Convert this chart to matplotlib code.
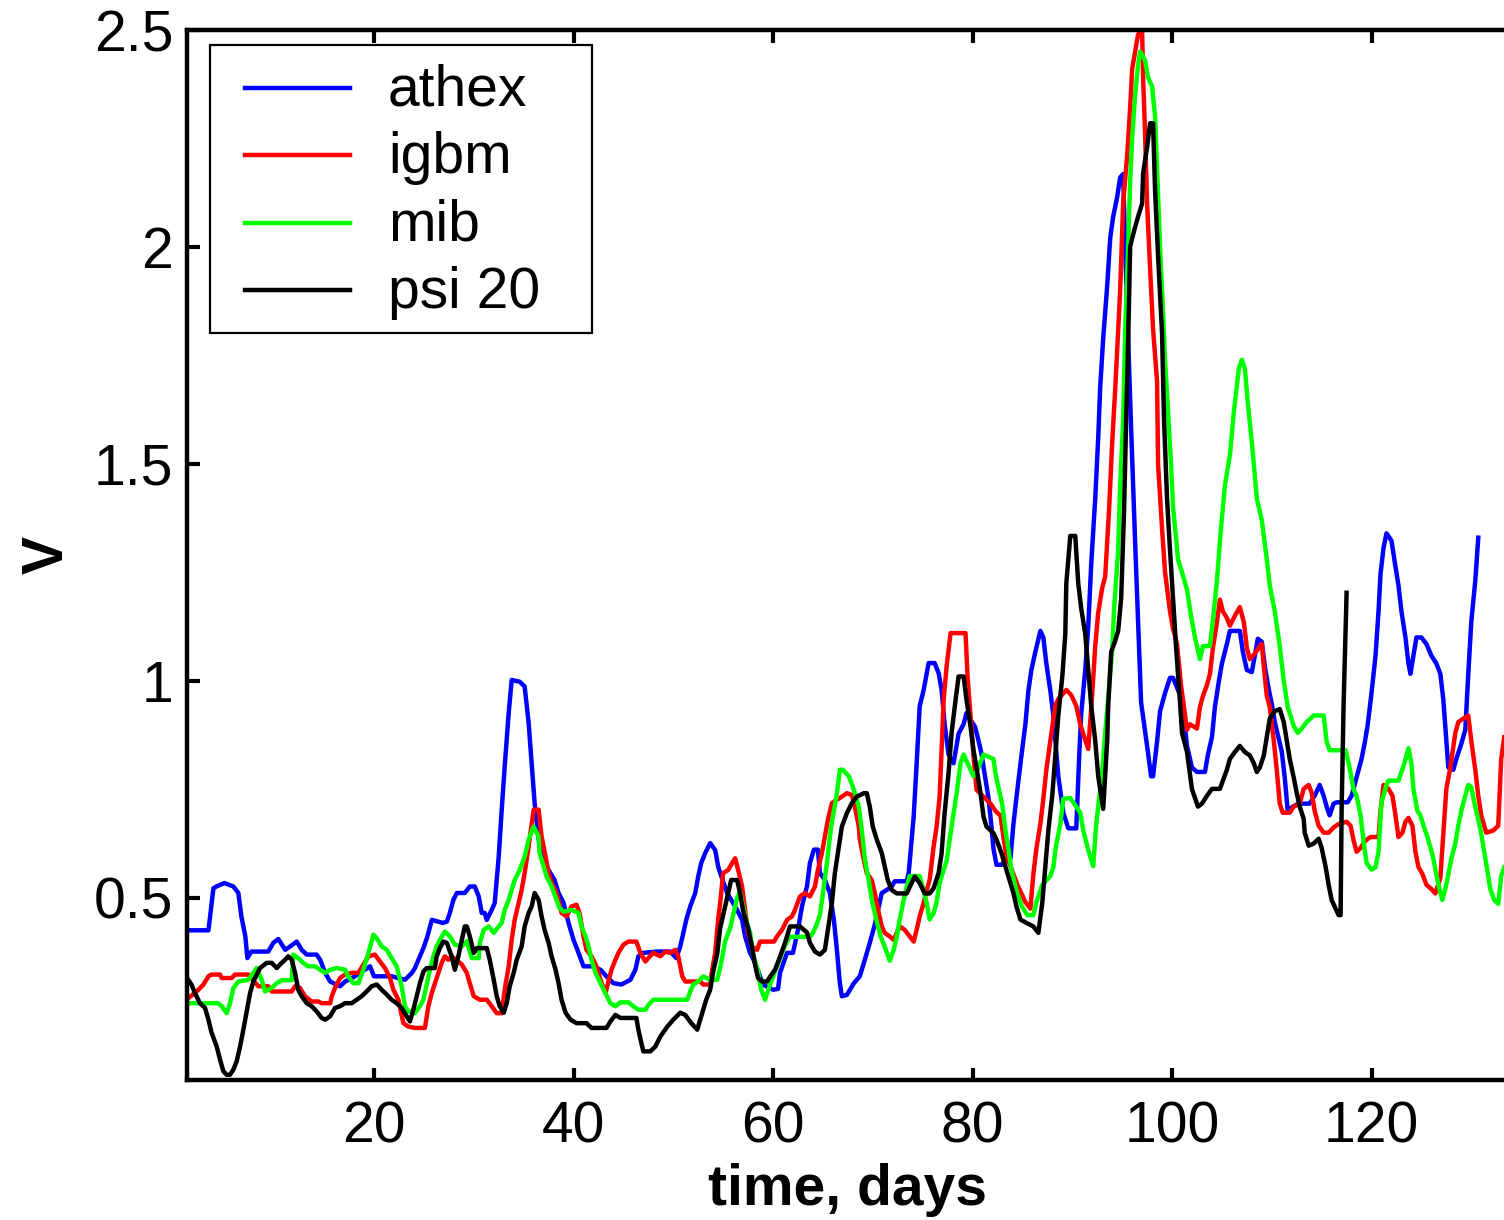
import matplotlib
matplotlib.use("Agg")
import matplotlib.pyplot as plt
from matplotlib.patches import Rectangle

plt.rcParams['font.family'] = ['Liberation Sans', 'DejaVu Sans']

# days / values (vertices of each trace)
athex_t = [1.3, 3.4, 3.9, 4.2, 5.0, 5.9, 6.4, 6.7, 7.1, 7.3, 7.7, 9.4, 9.9, 10.4, 11.1, 11.6, 12.25, 12.75,
           13.25, 14.25, 14.6, 15.1, 15.6, 16.6, 17.1, 17.8, 18.6, 19.6, 20.0, 21.1, 21.8, 22.4, 23.1, 23.8,
           24.1, 24.45, 24.95, 25.3, 25.8, 26.45, 26.9, 27.3, 27.6, 27.95, 28.3, 29.1, 29.6, 30.1, 30.5, 30.8,
           31.1, 31.3, 31.8, 32.1, 32.5, 32.8, 33.1, 33.5, 33.8, 34.6, 35.1, 35.5, 35.8, 36.1, 36.6, 37.2,
           38.1, 38.5, 39.0, 39.5, 40.0, 40.5, 41.0, 42.0, 42.7, 43.3, 44.0, 44.8, 45.7, 46.2, 46.5, 47.0,
           48.3, 49.7, 50.3, 50.7, 51.0, 51.3, 51.7, 52.2, 52.5, 52.8, 53.2, 53.7, 54.2, 54.5, 54.7, 55.4,
           56.4, 56.9, 57.2, 57.7, 58.2, 59.0, 60.0, 60.5, 60.7, 61.4, 62.0, 62.5, 62.9, 63.4, 63.7, 64.1,
           64.5, 64.7, 65.2, 65.7, 66.1, 66.4, 66.7, 66.9, 67.4, 68.1, 68.7, 69.2, 69.7, 70.2, 70.9, 71.4,
           71.9, 72.2, 73.4, 73.6, 74.1, 74.4, 74.7, 75.1, 75.6, 76.2, 76.6, 76.9, 77.2, 77.6, 78.1, 78.6,
           79.1, 79.4, 79.8, 80.25, 80.6, 80.9, 81.25, 81.6, 81.9, 82.1, 82.4, 82.9, 83.4, 83.8, 84.1, 84.6,
           84.9, 85.3, 85.6, 85.9, 86.3, 86.8, 87.1, 87.4, 87.8, 88.1, 88.6, 89.1, 89.6, 90.4, 90.7, 90.9,
           91.3, 91.6, 91.9, 92.3, 92.6, 92.8, 93.1, 93.5, 93.8, 94.1, 94.5, 94.8, 95.1, 95.3, 95.9, 96.3,
           96.9, 97.5, 97.9, 98.1, 98.5, 98.8, 99.3, 99.8, 100.1, 101.0, 101.5, 102.0, 102.5, 103.3, 103.6,
           104.0, 104.3, 104.7, 105.0, 105.5, 105.8, 106.8, 107.1, 107.5, 108.0, 108.6, 109.0, 109.3, 109.7,
           110.0, 110.3, 111.0, 111.3, 111.6, 112.1, 112.7, 113.8, 114.3, 114.8, 115.2, 115.5, 115.8, 116.2,
           116.5, 117.6, 118.0, 118.6, 119.0, 119.3, 119.6, 120.0, 120.4, 120.7, 120.9, 121.2, 121.5, 122.0,
           122.4, 122.7, 123.0, 123.4, 123.7, 123.9, 124.2, 124.5, 125.0, 125.5, 126.0, 126.5, 126.9, 127.2,
           127.5, 127.7, 128.2, 128.5, 129.0, 129.4, 129.7, 130.0, 130.4, 130.7]
athex_v = [0.425, 0.425, 0.522, 0.526, 0.534, 0.526, 0.511, 0.457, 0.411, 0.361, 0.376, 0.376, 0.396, 0.405,
           0.380, 0.388, 0.399, 0.380, 0.369, 0.369, 0.357, 0.327, 0.307, 0.296, 0.307, 0.315, 0.327, 0.342,
           0.319, 0.319, 0.319, 0.315, 0.311, 0.327, 0.338, 0.357, 0.384, 0.407, 0.449, 0.445, 0.442, 0.445,
           0.465, 0.495, 0.511, 0.511, 0.526, 0.526, 0.503, 0.465, 0.465, 0.449, 0.472, 0.488, 0.595, 0.703,
           0.803, 0.926, 1.002, 0.998, 0.987, 0.903, 0.810, 0.718, 0.618, 0.575, 0.541, 0.511, 0.488, 0.442,
           0.403, 0.373, 0.342, 0.342, 0.334, 0.319, 0.303, 0.300, 0.311, 0.334, 0.365, 0.373, 0.376, 0.376,
           0.361, 0.388, 0.419, 0.449, 0.480, 0.511, 0.549, 0.580, 0.603, 0.626, 0.610, 0.572, 0.557, 0.511,
           0.472, 0.449, 0.411, 0.373, 0.350, 0.300, 0.288, 0.290, 0.327, 0.373, 0.373, 0.426, 0.480, 0.526,
           0.580, 0.611, 0.611, 0.557, 0.541, 0.511, 0.449, 0.380, 0.303, 0.273, 0.276, 0.303, 0.319, 0.357,
           0.396, 0.438, 0.511, 0.518, 0.526, 0.538, 0.538, 0.557, 0.687, 0.810, 0.941, 0.979, 1.041, 1.041,
           1.018, 0.979, 0.900, 0.830, 0.810, 0.878, 0.900, 0.926, 0.910, 0.894, 0.862, 0.832, 0.780, 0.730,
           0.664, 0.613, 0.576, 0.576, 0.590, 0.590, 0.670, 0.770, 0.827, 0.900, 0.977, 1.025, 1.067, 1.115,
           1.100, 1.040, 0.977, 0.920, 0.780, 0.696, 0.660, 0.660, 0.830, 0.926, 1.025, 1.125, 1.270, 1.420,
           1.560, 1.677, 1.790, 1.910, 2.020, 2.070, 2.115, 2.160, 2.168, 2.000, 1.580, 1.320, 0.950, 0.850,
           0.780, 0.780, 0.860, 0.930, 0.972, 1.007, 1.007, 0.956, 0.850, 0.800, 0.790, 0.790, 0.830, 0.870,
           0.940, 1.000, 1.040, 1.085, 1.115, 1.115, 1.067, 1.025, 1.020, 1.097, 1.090, 1.033, 0.980, 0.947,
           0.905, 0.837, 0.777, 0.700, 0.710, 0.717, 0.717, 0.735, 0.760, 0.735, 0.710, 0.690, 0.717, 0.720,
           0.720, 0.735, 0.786, 0.820, 0.855, 0.896, 0.972, 1.058, 1.160, 1.246, 1.306, 1.340, 1.323, 1.263,
           1.220, 1.160, 1.100, 1.040, 1.016, 1.058, 1.100, 1.100, 1.085, 1.058, 1.040, 1.016, 0.956, 0.862,
           0.800, 0.795, 0.820, 0.855, 0.887, 1.016, 1.136, 1.230, 1.330]

igbm_t = [1.4, 2.4, 2.9, 3.4, 3.7, 4.56, 4.73, 5.73, 6.06, 7.4, 8.4, 9.4, 9.74, 11.75, 12.08, 12.58, 13.08,
          13.75, 14.42, 14.75, 15.6, 15.76, 16.09, 16.59, 17.09, 17.76, 18.43, 19.43, 20.1, 20.6, 21.1, 21.6,
          21.94, 22.44, 22.94, 23.44, 24.1, 25.1, 25.45, 25.78, 26.11, 26.45, 26.78, 27.1, 27.45, 27.78,
          28.45, 28.8, 29.3, 29.6, 30.0, 30.6, 31.3, 31.8, 32.3, 32.8, 33.1, 33.5, 33.8, 34.1, 34.5, 34.8,
          35.1, 35.5, 36.0, 36.5, 36.8, 37.2, 37.5, 37.8, 38.3, 38.8, 39.3, 39.8, 40.3, 40.6, 41.0, 41.3,
          41.8, 42.3, 42.7, 43.2, 43.8, 44.2, 44.5, 45.0, 45.5, 46.3, 46.7, 47.2, 47.5, 48.0, 48.7, 49.2,
          49.7, 50.2, 50.5, 50.9, 51.2, 52.7, 53.0, 53.7, 53.9, 54.2, 54.5, 54.7, 55.0, 55.5, 55.9, 56.2,
          56.5, 56.9, 57.2, 57.5, 57.9, 58.4, 58.7, 60.1, 60.4, 60.9, 61.4, 61.9, 62.2, 62.7, 63.2, 63.7,
          64.2, 64.5, 64.9, 65.2, 65.5, 65.9, 66.4, 66.9, 67.4, 67.9, 68.2, 68.6, 68.7, 69.1, 69.4, 69.9,
          70.2, 70.6, 70.9, 71.2, 71.7, 72.1, 72.4, 72.7, 73.2, 73.7, 74.1, 74.4, 74.7, 75.1, 75.4, 75.7,
          76.1, 76.4, 76.7, 76.9, 77.1, 77.4, 77.8, 79.3, 79.5, 79.8, 80.1, 80.4, 81.8, 82.3, 82.8, 83.1,
          83.4, 84.5, 85.3, 85.8, 86.1, 86.4, 86.8, 87.1, 87.4, 87.8, 88.3, 88.6, 89.4, 89.9, 90.4, 90.8,
          91.1, 91.6, 92.0, 92.3, 92.6, 93.0, 93.3, 93.7, 94.0, 94.3, 94.8, 95.1, 95.5, 95.8, 96.0, 96.3,
          96.6, 97.0, 97.1, 97.3, 97.5, 97.8, 98.1, 98.5, 98.6, 99.0, 99.3, 99.8, 100.1, 100.5, 100.9, 101.5,
          101.8, 102.5, 102.8, 103.1, 103.5, 103.8, 104.1, 104.5, 104.8, 105.1, 105.5, 105.8, 106.3, 106.8,
          107.2, 107.5, 107.8, 108.2, 108.7, 109.0, 109.2, 109.5, 109.8, 110.2, 110.5, 110.8, 111.1, 111.8,
          112.2, 112.8, 113.2, 113.7, 114.0, 114.3, 114.7, 115.2, 115.7, 116.2, 116.7, 117.5, 117.9, 118.2,
          118.5, 118.9, 119.4, 119.9, 120.7, 120.9, 121.2, 121.7, 122.1, 122.4, 122.7, 123.1, 123.4, 123.7,
          124.1, 124.4, 124.7, 125.1, 125.5, 126.0, 126.4, 126.9, 127.2, 127.5, 127.9, 128.4, 128.7, 129.2,
          129.7, 130.0, 130.4, 130.7, 131.0, 131.5, 132.2, 132.7, 133.0, 133.3]
igbm_v = [0.269, 0.288, 0.300, 0.319, 0.323, 0.323, 0.315, 0.315, 0.323, 0.323, 0.296, 0.296, 0.284, 0.284,
          0.296, 0.292, 0.273, 0.261, 0.261, 0.257, 0.257, 0.273, 0.292, 0.315, 0.323, 0.327, 0.327, 0.365,
          0.369, 0.353, 0.338, 0.315, 0.288, 0.265, 0.211, 0.203, 0.200, 0.200, 0.250, 0.280, 0.303, 0.327,
          0.350, 0.365, 0.357, 0.365, 0.353, 0.346, 0.327, 0.303, 0.273, 0.265, 0.265, 0.250, 0.234, 0.234,
          0.288, 0.342, 0.403, 0.449, 0.488, 0.518, 0.557, 0.618, 0.703, 0.703, 0.641, 0.595, 0.557, 0.534,
          0.511, 0.465, 0.457, 0.480, 0.484, 0.465, 0.411, 0.380, 0.365, 0.342, 0.311, 0.280, 0.334, 0.357,
          0.373, 0.392, 0.399, 0.399, 0.373, 0.353, 0.361, 0.373, 0.365, 0.376, 0.373, 0.380, 0.365, 0.319,
          0.307, 0.307, 0.300, 0.300, 0.334, 0.373, 0.450, 0.488, 0.557, 0.564, 0.580, 0.591, 0.564, 0.526,
          0.472, 0.419, 0.388, 0.380, 0.399, 0.399, 0.411, 0.426, 0.449, 0.457, 0.472, 0.503, 0.511, 0.503,
          0.526, 0.564, 0.603, 0.641, 0.680, 0.718, 0.726, 0.733, 0.741, 0.737, 0.710, 0.664, 0.634, 0.588,
          0.557, 0.541, 0.511, 0.465, 0.434, 0.419, 0.411, 0.403, 0.419, 0.434, 0.426, 0.411, 0.399, 0.426,
          0.457, 0.488, 0.518, 0.541, 0.618, 0.664, 0.733, 0.841, 0.956, 1.033, 1.110, 1.110, 1.010, 0.918,
          0.826, 0.749, 0.717, 0.700, 0.689, 0.640, 0.597, 0.530, 0.490, 0.475, 0.555, 0.613, 0.670, 0.728,
          0.795, 0.862, 0.943, 0.958, 0.979, 0.967, 0.942, 0.900, 0.878, 0.843, 0.970, 1.080, 1.157, 1.214,
          1.240, 1.400, 1.550, 1.670, 1.900, 2.100, 2.210, 2.320, 2.410, 2.450, 2.490, 2.500, 2.390, 2.260,
          2.100, 1.950, 1.810, 1.690, 1.500, 1.350, 1.250, 1.160, 1.120, 1.085, 0.990, 0.887, 0.900, 0.890,
          0.940, 0.965, 0.990, 1.016, 1.076, 1.135, 1.187, 1.160, 1.145, 1.127, 1.150, 1.170, 1.135, 1.076,
          1.050, 1.060, 1.076, 1.085, 1.033, 0.965, 0.940, 0.862, 0.795, 0.717, 0.696, 0.696, 0.710, 0.717,
          0.751, 0.760, 0.742, 0.700, 0.666, 0.650, 0.650, 0.662, 0.670, 0.675, 0.666, 0.632, 0.606, 0.615,
          0.632, 0.640, 0.640, 0.700, 0.760, 0.751, 0.735, 0.690, 0.640, 0.650, 0.675, 0.684, 0.666, 0.606,
          0.571, 0.555, 0.530, 0.520, 0.510, 0.546, 0.650, 0.751, 0.800, 0.880, 0.905, 0.913, 0.920, 0.862,
          0.795, 0.735, 0.690, 0.650, 0.655, 0.666, 0.820, 0.870]

mib_t = [1.4, 4.4, 4.73, 5.23, 5.56, 5.9, 6.4, 7.4, 7.9, 8.24, 8.74, 9.07, 9.74, 10.24, 10.74, 11.75, 11.9,
         12.4, 12.9, 13.4, 14.1, 14.6, 15.1, 15.6, 16.26, 17.1, 17.4, 17.93, 18.43, 18.93, 19.43, 19.93,
         20.27, 20.77, 21.27, 21.77, 22.27, 22.77, 23.1, 23.44, 24.1, 24.6, 24.95, 25.28, 25.6, 25.95, 26.28,
         26.6, 27.1, 27.6, 28.1, 28.8, 29.3, 29.8, 30.5, 30.6, 31.0, 31.5, 32.0, 32.5, 32.8, 33.1, 33.5,
         33.8, 34.1, 34.6, 35.1, 35.5, 36.0, 36.5, 36.6, 37.0, 37.3, 37.8, 38.3, 38.6, 39.0, 39.8, 40.5,
         40.8, 41.2, 41.5, 41.8, 42.2, 42.7, 43.2, 43.7, 44.2, 44.7, 45.5, 46.0, 46.5, 47.2, 47.5, 48.0,
         51.4, 51.7, 52.0, 52.5, 53.0, 53.7, 54.4, 54.8, 55.2, 55.7, 56.0, 56.4, 56.7, 57.0, 57.4, 57.7,
         58.0, 58.5, 58.8, 59.2, 59.7, 60.2, 60.7, 61.2, 61.7, 62.7, 63.7, 64.0, 64.4, 64.7, 65.0, 65.4,
         65.8, 66.4, 66.7, 67.0, 67.6, 68.0, 68.6, 68.9, 69.2, 69.6, 69.9, 70.4, 70.8, 71.2, 71.7, 72.1,
         72.4, 72.7, 73.1, 73.4, 73.7, 74.7, 75.0, 75.4, 75.7, 76.1, 76.4, 76.7, 77.4, 77.9, 78.4, 78.8,
         79.1, 79.7, 80.1, 80.6, 81.1, 82.1, 82.3, 82.6, 83.0, 83.3, 83.6, 83.9, 84.4, 84.9, 85.5, 86.1,
         86.4, 87.0, 87.8, 88.1, 88.3, 88.8, 89.1, 89.8, 90.4, 90.8, 91.1, 91.6, 92.1, 92.4, 93.0, 93.3,
         93.6, 94.0, 94.2, 94.6, 94.8, 95.1, 95.3, 95.6, 95.8, 96.0, 96.3, 96.6, 96.8, 97.3, 97.6, 98.0,
         98.3, 98.5, 98.8, 99.1, 99.3, 99.6, 99.9, 100.1, 100.4, 100.6, 101.0, 101.5, 101.9, 102.3, 102.8,
         103.1, 103.8, 104.1, 104.5, 104.9, 105.3, 105.8, 106.2, 106.7, 107.0, 107.3, 107.6, 108.0, 108.5,
         109.0, 109.5, 109.8, 110.3, 110.8, 111.2, 111.6, 112.2, 112.6, 113.0, 113.5, 114.2, 115.2, 115.5,
         115.8, 116.8, 117.4, 117.8, 118.2, 118.5, 118.9, 119.2, 119.5, 120.0, 120.4, 120.7, 121.0, 121.5,
         121.7, 122.7, 123.0, 123.3, 123.7, 124.0, 124.2, 124.6, 124.9, 125.3, 125.6, 126.1, 126.4, 126.8,
         127.1, 127.5, 128.0, 128.4, 128.7, 129.0, 129.4, 129.7, 130.0, 130.3, 130.6, 130.9, 131.3, 131.6,
         131.9, 132.3, 132.7, 133.0, 133.3]
mib_v = [0.257, 0.257, 0.250, 0.234, 0.257, 0.292, 0.307, 0.311, 0.327, 0.338, 0.311, 0.284, 0.292, 0.303,
         0.310, 0.310, 0.369, 0.361, 0.350, 0.342, 0.342, 0.334, 0.327, 0.334, 0.338, 0.334, 0.319, 0.303,
         0.303, 0.334, 0.372, 0.415, 0.407, 0.388, 0.380, 0.361, 0.342, 0.296, 0.250, 0.238, 0.234, 0.250,
         0.265, 0.300, 0.334, 0.365, 0.388, 0.403, 0.422, 0.411, 0.392, 0.388, 0.400, 0.361, 0.361, 0.396,
         0.426, 0.434, 0.419, 0.434, 0.442, 0.472, 0.495, 0.518, 0.541, 0.564, 0.595, 0.634, 0.664, 0.641,
         0.603, 0.572, 0.549, 0.526, 0.495, 0.476, 0.468, 0.472, 0.465, 0.434, 0.411, 0.388, 0.357, 0.327,
         0.303, 0.280, 0.257, 0.250, 0.259, 0.259, 0.250, 0.242, 0.242, 0.253, 0.265, 0.265, 0.284, 0.300,
         0.307, 0.319, 0.311, 0.311, 0.350, 0.400, 0.430, 0.460, 0.500, 0.515, 0.480, 0.440, 0.420, 0.370,
         0.330, 0.290, 0.265, 0.300, 0.330, 0.360, 0.390, 0.410, 0.410, 0.410, 0.419, 0.440, 0.460, 0.510,
         0.580, 0.660, 0.740, 0.795, 0.795, 0.780, 0.756, 0.710, 0.655, 0.590, 0.540, 0.495, 0.445, 0.410,
         0.387, 0.355, 0.380, 0.410, 0.450, 0.495, 0.525, 0.550, 0.550, 0.525, 0.488, 0.450, 0.465, 0.490,
         0.534, 0.585, 0.664, 0.740, 0.810, 0.830, 0.800, 0.780, 0.800, 0.830, 0.820, 0.786, 0.754, 0.712,
         0.655, 0.613, 0.564, 0.516, 0.482, 0.460, 0.460, 0.490, 0.530, 0.550, 0.570, 0.610, 0.670, 0.728,
         0.730, 0.710, 0.696, 0.655, 0.610, 0.573, 0.670, 0.790, 0.880, 0.960, 1.070, 1.170, 1.300, 1.450,
         1.600, 1.800, 2.000, 2.150, 2.250, 2.350, 2.420, 2.450, 2.430, 2.390, 2.370, 2.300, 2.180, 2.000,
         1.850, 1.740, 1.620, 1.500, 1.400, 1.330, 1.280, 1.250, 1.210, 1.150, 1.100, 1.050, 1.080, 1.080,
         1.140, 1.230, 1.350, 1.450, 1.520, 1.620, 1.720, 1.740, 1.720, 1.640, 1.550, 1.420, 1.370, 1.280,
         1.220, 1.160, 1.080, 1.000, 0.940, 0.896, 0.880, 0.890, 0.905, 0.920, 0.920, 0.860, 0.840, 0.840,
         0.840, 0.800, 0.750, 0.735, 0.690, 0.630, 0.580, 0.565, 0.570, 0.606, 0.720, 0.760, 0.770, 0.770,
         0.790, 0.810, 0.845, 0.810, 0.750, 0.700, 0.690, 0.660, 0.640, 0.600, 0.565, 0.520, 0.495, 0.530,
         0.590, 0.625, 0.666, 0.700, 0.735, 0.760, 0.755, 0.720, 0.690, 0.660, 0.606, 0.565, 0.520, 0.495,
         0.486, 0.550, 0.570]

psi20_t = [1.4, 1.7, 2.05, 2.55, 3.06, 3.4, 3.7, 4.23, 4.56, 4.9, 5.23, 5.56, 5.9, 6.23, 6.57, 6.9, 7.2, 7.57,
           7.9, 8.24, 8.57, 9.24, 9.74, 10.24, 10.74, 11.08, 11.4, 11.75, 12.08, 12.4, 12.75, 13.25, 13.75,
           14.25, 14.75, 15.1, 15.6, 16.09, 16.59, 17.09, 17.76, 18.26, 18.76, 19.26, 19.76, 20.27, 20.77,
           21.27, 21.77, 22.27, 22.77, 23.27, 23.6, 23.94, 24.28, 24.6, 24.95, 25.28, 26.1, 26.28, 26.6, 26.95,
           27.3, 27.78, 28.1, 28.45, 28.8, 29.1, 29.3, 29.6, 30.0, 30.3, 31.3, 31.6, 32.0, 32.3, 32.6, 33.0,
           33.3, 33.6, 34.0, 34.3, 34.8, 35.1, 35.5, 35.8, 36.1, 36.5, 36.8, 37.1, 37.5, 37.8, 38.2, 38.5,
           38.8, 39.2, 39.7, 40.3, 41.3, 41.8, 43.3, 43.7, 44.2, 44.7, 46.3, 46.5, 46.8, 47.0, 47.7, 48.2,
           48.7, 49.4, 50.0, 50.7, 51.2, 51.8, 52.4, 52.7, 53.0, 53.3, 53.7, 54.0, 54.4, 54.7, 55.0, 55.4,
           55.8, 56.4, 56.7, 57.0, 57.5, 57.9, 58.2, 58.5, 58.9, 59.4, 59.7, 60.2, 60.7, 61.2, 61.7, 62.7,
           63.4, 63.7, 64.2, 64.7, 65.2, 65.6, 65.9, 66.2, 66.6, 66.9, 67.4, 67.9, 68.4, 69.1, 69.4, 69.7,
           70.0, 70.4, 70.9, 71.2, 71.5, 71.9, 72.4, 73.4, 73.9, 74.2, 74.7, 75.2, 75.7, 76.1, 76.6, 76.9,
           77.2, 77.6, 77.9, 78.3, 78.6, 79.1, 79.4, 79.8, 80.1, 80.4, 80.8, 81.1, 81.4, 82.1, 82.4, 82.9,
           83.4, 84.1, 84.4, 84.8, 85.4, 86.1, 86.6, 87.0, 87.3, 87.6, 88.0, 88.3, 88.6, 89.0, 89.3, 89.4,
           89.8, 90.3, 90.6, 90.9, 91.3, 91.6, 91.9, 92.3, 92.6, 93.1, 93.5, 93.6, 93.9, 94.3, 94.6, 94.9,
           95.2, 95.4, 95.6, 95.8, 96.0, 96.3, 96.6, 97.0, 97.1, 97.5, 97.8, 98.1, 98.3, 98.6, 99.0, 99.2,
           99.5, 99.8, 100.1, 100.4, 100.8, 101.0, 101.5, 102.0, 102.6, 103.0, 103.5, 104.0, 104.8, 105.1,
           105.5, 105.8, 106.3, 106.8, 107.3, 107.8, 108.2, 108.5, 108.8, 109.2, 109.5, 109.8, 110.3, 110.8,
           111.2, 111.5, 111.8, 112.2, 112.5, 112.8, 113.2, 113.3, 113.7, 114.2, 114.7, 115.0, 115.4, 115.7,
           116.0, 116.3, 116.7, 116.9, 117.0, 117.2, 117.5]
psi20_v = [0.310, 0.300, 0.280, 0.257, 0.246, 0.219, 0.190, 0.157, 0.127, 0.100, 0.092, 0.092, 0.104, 0.123,
           0.157, 0.196, 0.234, 0.280, 0.307, 0.323, 0.338, 0.350, 0.350, 0.338, 0.350, 0.357, 0.365, 0.357,
           0.327, 0.288, 0.273, 0.257, 0.250, 0.238, 0.223, 0.219, 0.227, 0.246, 0.250, 0.257, 0.257, 0.265,
           0.273, 0.284, 0.296, 0.300, 0.288, 0.277, 0.265, 0.257, 0.246, 0.227, 0.215, 0.242, 0.273, 0.303,
           0.330, 0.338, 0.338, 0.365, 0.384, 0.399, 0.396, 0.365, 0.334, 0.365, 0.403, 0.434, 0.434, 0.411,
           0.373, 0.384, 0.384, 0.357, 0.311, 0.273, 0.250, 0.235, 0.257, 0.296, 0.327, 0.357, 0.388, 0.434,
           0.465, 0.480, 0.511, 0.495, 0.457, 0.426, 0.396, 0.365, 0.334, 0.303, 0.265, 0.235, 0.219, 0.211,
           0.211, 0.200, 0.200, 0.215, 0.230, 0.223, 0.223, 0.196, 0.165, 0.146, 0.146, 0.157, 0.180, 0.203,
           0.219, 0.235, 0.230, 0.211, 0.196, 0.219, 0.242, 0.265, 0.288, 0.330, 0.370, 0.430, 0.460, 0.500,
           0.541, 0.541, 0.510, 0.470, 0.430, 0.385, 0.345, 0.315, 0.307, 0.307, 0.318, 0.334, 0.364, 0.396,
           0.434, 0.434, 0.420, 0.396, 0.376, 0.369, 0.380, 0.442, 0.488, 0.557, 0.618, 0.664, 0.695, 0.718,
           0.733, 0.741, 0.741, 0.710, 0.664, 0.634, 0.603, 0.572, 0.541, 0.518, 0.510, 0.510, 0.534, 0.549,
           0.534, 0.510, 0.510, 0.522, 0.557, 0.603, 0.695, 0.788, 0.880, 0.956, 1.010, 1.010, 0.956, 0.894,
           0.840, 0.800, 0.741, 0.687, 0.664, 0.649, 0.634, 0.603, 0.564, 0.511, 0.480, 0.450, 0.442, 0.434,
           0.419, 0.490, 0.573, 0.655, 0.737, 0.827, 0.920, 1.010, 1.108, 1.224, 1.334, 1.334, 1.224, 1.166,
           1.108, 1.025, 0.942, 0.862, 0.780, 0.705, 0.862, 0.942, 1.067, 1.092, 1.115, 1.190, 1.400, 1.600,
           1.780, 2.000, 2.020, 2.046, 2.070, 2.100, 2.170, 2.230, 2.285, 2.285, 2.130, 1.980, 1.800, 1.600,
           1.420, 1.300, 1.190, 1.080, 0.950, 0.880, 0.836, 0.750, 0.710, 0.717, 0.735, 0.751, 0.751, 0.770,
           0.795, 0.820, 0.836, 0.850, 0.836, 0.828, 0.810, 0.790, 0.800, 0.828, 0.870, 0.913, 0.930, 0.935,
           0.905, 0.862, 0.820, 0.777, 0.742, 0.710, 0.682, 0.650, 0.620, 0.625, 0.636, 0.615, 0.571, 0.530,
           0.495, 0.480, 0.460, 0.460, 0.700, 0.947, 1.203]

labels = ['athex', 'igbm', 'mib', 'psi 20']
colors = ['#0000ff', '#ff0000', '#00ff00', '#000000']
xticks = [20, 40, 60, 80, 100, 120]
yticks = [0.5, 1, 1.5, 2, 2.5]
ytick_labels = ['0.5', '1', '1.5', '2', '2.5']

W, H = 1504, 1220
# axes box in pixels; the right edge runs past the picture, as in the original
ax_l, ax_r, ax_t, ax_b = 187, 1520, 30, 1080
fig = plt.figure(figsize=(W / 100, H / 100), dpi=100)
ax = fig.add_axes([ax_l / W, 1 - ax_b / H, (ax_r - ax_l) / W, (ax_b - ax_t) / H])

series = [(athex_t, athex_v), (igbm_t, igbm_v), (mib_t, mib_v), (psi20_t, psi20_v)]
for (t, v), c, lab in zip(series, colors, labels):
    ax.plot(t, v, color=c, lw=3.2, label=lab)

ax.set_xlim(1.25, 1.25 + (ax_r - ax_l) / 9.975)
ax.set_ylim(0.08, 2.5)
ax.set_xticks(xticks)
ax.set_yticks(yticks)
ax.set_yticklabels(ytick_labels)
ax.tick_params(direction='in', length=9, width=3, top=True, right=True,
               labelsize=41, colors='black')
ax.tick_params(axis='x', pad=15)
ax.tick_params(axis='y', pad=10)
for s in ax.spines.values():
    s.set_linewidth(3.2)

ax.set_xlabel('time, days', fontsize=41, fontweight='bold')
ax.xaxis.set_label_coords((848 - ax_l) / (ax_r - ax_l), -0.079)
ax.set_ylabel('V', fontsize=41, fontweight='bold', labelpad=14)


def axpos(px, py):
    # pixel position in the picture -> axes fraction
    return (px - ax_l) / (ax_r - ax_l), (ax_b - py) / (ax_b - ax_t)


# legend box drawn by hand so its padding matches the original
x0, y0 = axpos(210, 333)
x1, y1 = axpos(592, 45)
ax.add_patch(Rectangle((x0, y0), x1 - x0, y1 - y0, transform=ax.transAxes,
                       facecolor='white', edgecolor='black', lw=1.6, zorder=5))
for row, (c, lab) in enumerate(zip(colors, labels)):
    py = 88 + row * 67.3
    lx0, ly = axpos(245, py)
    lx1, _ = axpos(350, py)
    tx, ty = axpos(388, py + 3)
    ax.plot([lx0, lx1], [ly, ly], color=c, lw=3.2, transform=ax.transAxes, zorder=6)
    ax.text(tx, ty, lab, transform=ax.transAxes, fontsize=41, va='center', ha='left', zorder=6)

fig.savefig('out.png', dpi=100)
